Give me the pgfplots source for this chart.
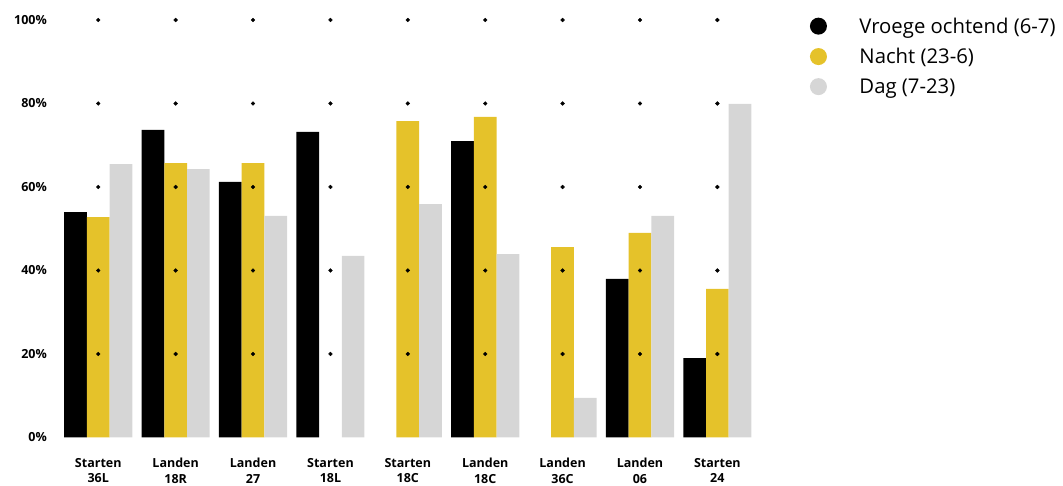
\documentclass[border=0pt]{standalone}
\usepackage{pgfplots}
\pgfplotsset{compat=1.18}
\usepackage{fontspec}
\setmainfont{Open Sans}
\definecolor{cyel}{HTML}{E5C22A}
\definecolor{cgry}{HTML}{D6D6D6}
\begin{document}
\begin{tikzpicture}
\useasboundingbox (0,0) rectangle (1063pt,486pt);
\begin{axis}[
  at={(65pt,48.5pt)}, anchor=south west,
  scale only axis, width=686.4pt, height=417.5pt,
  xmin=-0.43, xmax=8.44, ymin=0, ymax=100,
  clip=false,
  axis line style={draw=none}, tick style={draw=none}, major tick length=0pt,
  xtick={0,...,8},
  xticklabels={{Starten\\36L},{Landen\\18R},{Landen\\27},{Starten\\18L},{Starten\\18C},{Landen\\18C},{Landen\\36C},{Landen\\06},{Starten\\24}},
  xticklabel style={align=center, anchor=north, inner sep=0pt, yshift=-20.5pt, font=\bfseries\fontsize{12.5}{15.5}\selectfont},
  ytick={0,20,40,60,80,100},
  yticklabels={0\%,20\%,40\%,60\%,80\%,100\%},
  yticklabel style={anchor=east, inner sep=0pt, xshift=-18pt, font=\bfseries\fontsize{12.5}{14}\selectfont},
  legend style={at={(1.085,1.0084)}, anchor=north west, draw=none, fill=none, inner sep=0pt,
    font=\fontsize{20.3}{23}\selectfont, row sep=11.5pt,
    nodes={inner sep=1pt}},
  legend cell align=left,
  legend image code/.code={\fill (0pt,0pt) circle (8.5pt); \path[draw=none,fill=none] (-8.5pt,-1pt) rectangle (40pt,1pt);},
]
\addplot[ybar, bar width=22.7pt, bar shift=-22.7pt, fill=black, draw=none] coordinates {
(0,54.0) (1,73.7) (2,61.2) (3,73.2) (5,71.0) (7,38.0) (8,19.0)};
\addlegendentry{Vroege ochtend (6-7)}
\addplot[ybar, bar width=22.7pt, bar shift=0pt, fill=cyel, draw=none] coordinates {
(0,52.8) (1,65.7) (2,65.7) (4,75.8) (5,76.8) (6,45.6) (7,49.0) (8,35.6)};
\addlegendentry{Nacht (23-6)}
\addplot[ybar, bar width=22.7pt, bar shift=22.7pt, fill=cgry, draw=none] coordinates {
(0,65.5) (1,64.3) (2,53.1) (3,43.5) (4,55.9) (5,43.9) (6,9.5) (7,53.1) (8,79.9)};
\addlegendentry{Dag (7-23)}
\addplot[only marks, mark=*, mark size=1.9pt, black, forget plot] coordinates {
(0,20)(0,40)(0,60)(0,80)(0,100)
(1,20)(1,40)(1,60)(1,80)(1,100)
(2,20)(2,40)(2,60)(2,80)(2,100)
(3,20)(3,40)(3,60)(3,80)(3,100)
(4,20)(4,40)(4,60)(4,80)(4,100)
(5,20)(5,40)(5,60)(5,80)(5,100)
(6,20)(6,40)(6,60)(6,80)(6,100)
(7,20)(7,40)(7,60)(7,80)(7,100)
(8,20)(8,40)(8,60)(8,80)(8,100)};
\end{axis}
\end{tikzpicture}
\end{document}
